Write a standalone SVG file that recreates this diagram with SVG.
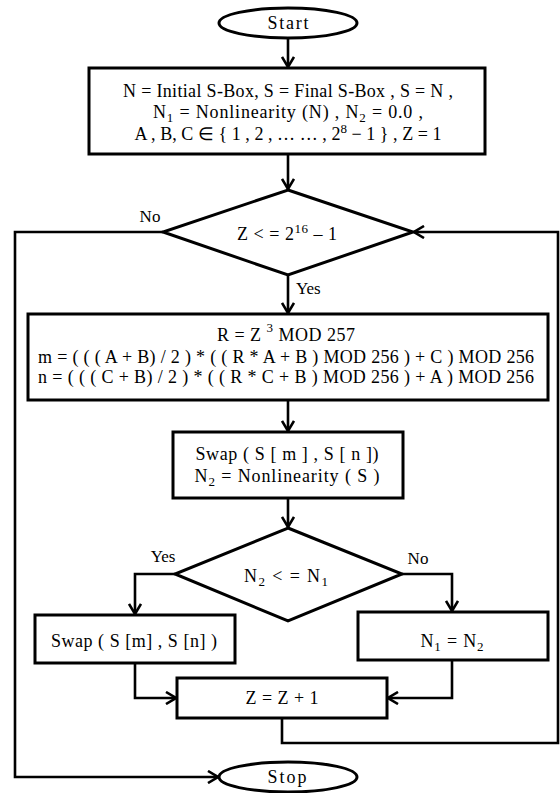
<svg xmlns="http://www.w3.org/2000/svg" width="560" height="793" viewBox="0 0 560 793">
<defs>
<marker id="arr" markerUnits="userSpaceOnUse" viewBox="0 0 12 14" refX="11" refY="7" markerWidth="12" markerHeight="14" orient="auto">
<path d="M1,1 L11,7 L1,13" fill="none" stroke="#000" stroke-width="2.6"/>
</marker>
<style>
.s{fill:#fff;stroke:#000;stroke-width:3}
.t{font-family:"Liberation Serif","Times New Roman",serif;font-size:18px;fill:#000;text-anchor:middle}
.l{font-family:"Liberation Serif","Times New Roman",serif;font-size:17px;fill:#000}
.c{fill:none;stroke:#000;stroke-width:2.6;marker-end:url(#arr)}
</style>
</defs>
<rect width="560" height="793" fill="#fff"/>
<g id="connectors">
<path class="c" d="M288,37 V67"/>
<path class="c" d="M288,154 V189"/>
<path class="c" d="M288,275 V313"/>
<path class="c" d="M288,400 V431"/>
<path class="c" d="M288,498 V527"/>
<path class="c" d="M175,574 H135 V614"/>
<path class="c" d="M402,574 H452 V611"/>
<path class="c" d="M135,663 V698 H176"/>
<path class="c" d="M452,660 V698 H388"/>
<path class="c" d="M282,718 V743 H558 V232 H414"/>
<path class="c" d="M163,232 H15 V777 H218"/>
<text class="l" x="150" y="222" text-anchor="middle">No</text>
<text class="l" x="296" y="294">Yes</text>
<text class="l" x="163" y="562" text-anchor="middle">Yes</text>
<text class="l" x="418" y="564" text-anchor="middle">No</text>
</g>
<g id="start">
<ellipse class="s" cx="288" cy="23" rx="69" ry="15"/>
<text class="t" x="288" y="29" textLength="41">Start</text>
</g>
<g id="init">
<rect class="s" x="89" y="68" width="396" height="86"/>
<text class="t" x="288" y="97" textLength="330">N = Initial S-Box, S = Final S-Box , S = N ,</text>
<text class="t" x="288" y="118" textLength="270">N<tspan dy="4" font-size="13">1</tspan><tspan dy="-4"> = Nonlinearity (N) , N</tspan><tspan dy="4" font-size="13">2</tspan><tspan dy="-4"> = 0.0 ,</tspan></text>
<text class="t" x="288" y="140" textLength="307">A , B, C ∈ { 1 , 2 , … … , 2<tspan dy="-7" font-size="13">8</tspan><tspan dy="7"> − 1 } , Z = 1</tspan></text>
</g>
<g id="cond1">
<polygon class="s" points="288,190 413,232 288,275 163,232"/>
<text class="t" x="287" y="240" textLength="100">Z &lt; = 2<tspan dy="-7" font-size="13">16</tspan><tspan dy="7"> – 1</tspan></text>
</g>
<g id="compute">
<rect class="s" x="28" y="314" width="520" height="86"/>
<text class="t" x="286" y="341" textLength="138">R = Z <tspan dy="-9" font-size="13">3</tspan><tspan dy="9"> MOD 257</tspan></text>
<text class="t" x="286" y="363" textLength="496">m = ( ( ( A + B) / 2 ) * ( ( R * A + B ) MOD 256 ) + C ) MOD 256</text>
<text class="t" x="286" y="383" textLength="496">n = ( ( ( C + B) / 2 ) * ( ( R * C + B ) MOD 256 ) + A ) MOD 256</text>
</g>
<g id="swap1">
<rect class="s" x="173" y="432" width="230" height="66"/>
<text class="t" x="287" y="460" textLength="183">Swap ( S [ m ] , S [ n ])</text>
<text class="t" x="287" y="482" textLength="185">N<tspan dy="4" font-size="13">2</tspan><tspan dy="-4"> = Nonlinearity ( S )</tspan></text>
</g>
<g id="cond2">
<polygon class="s" points="288,528 402,574 288,621 175,574"/>
<text class="t" x="286" y="582" textLength="84">N<tspan dy="4" font-size="13">2</tspan><tspan dy="-4"> &lt; = N</tspan><tspan dy="4" font-size="13">1</tspan></text>
</g>
<g id="swap2">
<rect class="s" x="35" y="615" width="200" height="48"/>
<text class="t" x="134" y="647" textLength="166">Swap ( S [m] , S [n] )</text>
</g>
<g id="assign">
<rect class="s" x="358" y="612" width="190" height="48"/>
<text class="t" x="452" y="647" textLength="63">N<tspan dy="4" font-size="13">1</tspan><tspan dy="-4"> = N</tspan><tspan dy="4" font-size="13">2</tspan></text>
</g>
<g id="inc">
<rect class="s" x="177" y="678" width="210" height="40"/>
<text class="t" x="282" y="704" textLength="73">Z = Z + 1</text>
</g>
<g id="stop">
<ellipse class="s" cx="288" cy="777" rx="69" ry="15"/>
<text class="t" x="287" y="783" textLength="39">Stop</text>
</g>
</svg>
